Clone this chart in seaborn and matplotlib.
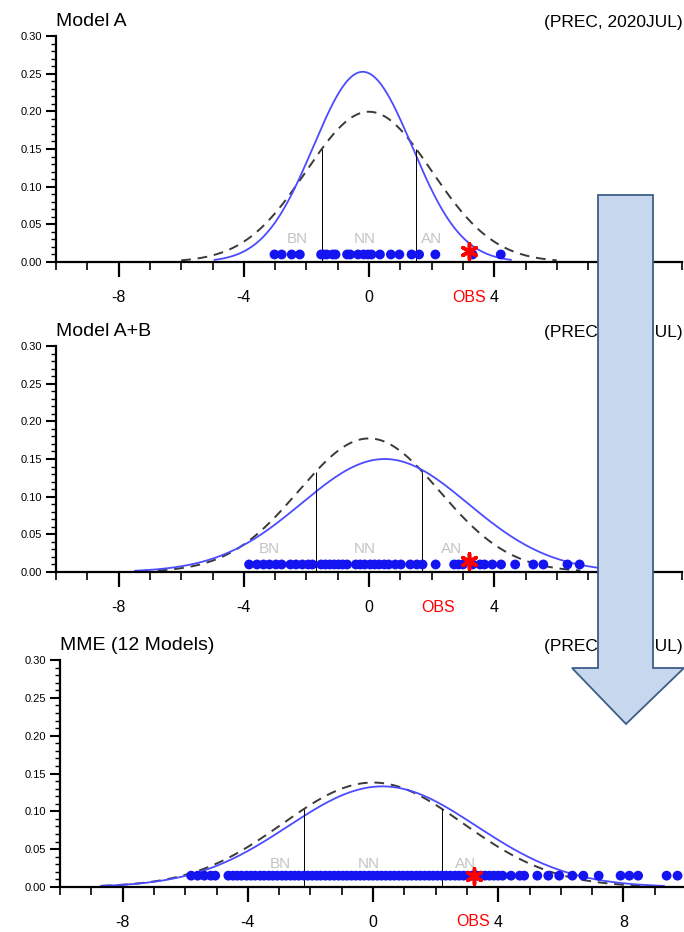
import matplotlib
matplotlib.use('Agg')

import matplotlib.pyplot as plt
from matplotlib.patches import Polygon
from matplotlib.ticker import MultipleLocator, FormatStrFormatter
import numpy as np
import seaborn as sns

sns.set_style("ticks")
plt.rcParams['font.family'] = ['Liberation Sans', 'DejaVu Sans']
plt.rcParams['text.color'] = 'black'
plt.rcParams['xtick.color'] = 'black'
plt.rcParams['ytick.color'] = 'black'
plt.rcParams['axes.edgecolor'] = 'black'

# panel titles
titles = ['Model A', 'Model A+B', 'MME (12 Models)']
right_title = '(PREC, 2020JUL)'

# fitted normal pdfs: forecast ensemble (blue) and climatology (dashed)
fcst_mean = [-0.2, 0.5, 0.3]
fcst_sd = [1.58, 2.66, 3.0]
clim_mean = [0.0, 0.0, 0.0]
clim_sd = [2.0, 2.25, 2.89]

# tercile boundaries (thin vertical lines)
lower_tercile = [-1.5, -1.7, -2.2]
upper_tercile = [1.5, 1.7, 2.2]

# ensemble members (blue dots)
members_a = [-3.02, -2.79, -2.47, -2.21, -1.53, -1.45, -1.35, -1.16, -1.07,
             -0.7, -0.6, -0.35, -0.17, -0.03, 0.08, 0.35, 0.7, 0.97, 1.36,
             1.6, 2.12, 3.31, 4.21]
members_ab = [-3.83, -3.58, -3.37, -3.18, -2.97, -2.79, -2.51, -2.33, -2.13,
              -1.94, -1.81, -1.53, -1.39, -1.25, -1.11, -0.97, -0.84, -0.7,
              -0.42, -0.28, -0.14, 0.04, 0.18, 0.32, 0.49, 0.63, 0.84, 1.02,
              1.32, 1.53, 1.71, 2.13, 2.72, 2.86, 3.0, 3.31, 3.55, 3.69,
              3.94, 4.22, 4.67, 5.25, 5.57, 6.34, 6.73]
members_mme = [-5.81, -5.6, -5.39, -5.18, -5.04,
               -4.62, -4.47, -4.34, -4.2, -4.04, -3.9, -3.77, -3.61, -3.48,
               -3.33, -3.2, -3.06, -2.91, -2.78, -2.63, -2.5, -2.37, -2.21,
               -2.08, -1.94, -1.8, -1.67, -1.52, -1.38, -1.24, -1.1, -0.96,
               -0.83, -0.69, -0.55, -0.41, -0.28, -0.13, 0.0, 0.14, 0.27,
               0.41, 0.55, 0.68, 0.83, 0.96, 1.1, 1.23, 1.38, 1.51, 1.65,
               1.79, 1.92, 2.06, 2.2, 2.33, 2.47, 2.62, 2.75, 2.89, 3.03,
               3.16, 3.31, 3.44, 3.58, 3.72, 3.86, 4.0, 4.14, 4.41,
               4.69, 4.83, 5.25, 5.6, 5.95, 6.37, 6.72, 7.21, 7.91, 8.19,
               8.47, 9.38, 9.73]
members = [members_a, members_ab, members_mme]
member_y = [0.01, 0.01, 0.015]

# observation
obs_value = [3.2, 3.2, 3.22]
obs_y = 0.015
obs_label_x = [3.2, 2.2, 3.2]

# category labels
cat_labels = ['BN', 'NN', 'AN']
cat_x = [[-2.3, -0.15, 2.0], [-3.2, -0.15, 2.65], [-2.95, -0.15, 2.95]]
cat_y = 0.03

W, H = 684, 932
# axes boxes in pixels: left, top(0.30), bottom(0.00)
boxes = [(56, 36, 262), (56, 346, 572), (60, 660, 887)]
ax_width = 626


def pdf(x, m, s):
    return np.exp(-0.5 * ((x - m) / s) ** 2) / (s * np.sqrt(2 * np.pi))


fig = plt.figure(figsize=(W / 100, H / 100), dpi=100)

for i in range(3):
    left, top, bottom = boxes[i]
    ax = fig.add_axes([left / W, 1 - bottom / H, ax_width / W, (bottom - top) / H])

    xc = np.linspace(clim_mean[i] - 3 * clim_sd[i], clim_mean[i] + 3 * clim_sd[i], 300)
    sns.lineplot(x=xc, y=pdf(xc, clim_mean[i], clim_sd[i]), ax=ax, color='#3a3a3a',
                 linewidth=1.4, linestyle=(0, (5, 3.5)))
    xf = np.linspace(fcst_mean[i] - 3 * fcst_sd[i], fcst_mean[i] + 3 * fcst_sd[i], 300)
    sns.lineplot(x=xf, y=pdf(xf, fcst_mean[i], fcst_sd[i]), ax=ax, color='#4b4bff',
                 linewidth=1.3)

    for t in [lower_tercile[i], upper_tercile[i]]:
        ax.vlines(t, 0, pdf(t, clim_mean[i], clim_sd[i]), color='black', linewidth=0.7)

    for lab, cx in zip(cat_labels, cat_x[i]):
        ax.text(cx, cat_y, lab, color='#c4c4c4', fontsize=11, ha='center', va='center')

    sns.scatterplot(x=members[i], y=[member_y[i]] * len(members[i]), ax=ax,
                    color='#1414f0', s=50, edgecolor='none', zorder=3, legend=False)
    sns.scatterplot(x=[obs_value[i]], y=[obs_y], ax=ax, color='red', marker=(6, 2, 0),
                    s=120, linewidth=2.6, zorder=4, legend=False)

    ax.annotate('OBS', xy=(obs_label_x[i], 0), xycoords=('data', 'axes fraction'),
                xytext=(0, -35), textcoords='offset pixels', color='red',
                fontsize=11.5, ha='center', va='center')

    ax.set_xlim(-10, 10)
    ax.set_ylim(0, 0.30)
    ax.xaxis.set_major_locator(MultipleLocator(4))
    ax.xaxis.set_major_formatter(FormatStrFormatter('%d'))
    ax.xaxis.set_minor_locator(MultipleLocator(1))
    ax.yaxis.set_major_locator(MultipleLocator(0.05))
    ax.yaxis.set_minor_locator(MultipleLocator(0.01))
    ax.yaxis.set_major_formatter(FormatStrFormatter('%.2f'))
    ax.tick_params(axis='x', which='major', length=11, width=1.6, labelsize=11.5, pad=9)
    ax.tick_params(axis='x', which='minor', length=5.5, width=1.2)
    ax.tick_params(axis='y', which='major', length=7, width=1.5, labelsize=8, pad=3)
    ax.tick_params(axis='y', which='minor', length=3.5, width=1.0)
    sns.despine(ax=ax)
    for side in ['left', 'bottom']:
        ax.spines[side].set_linewidth(1.6)
    ax.set_xlabel('')
    ax.set_ylabel('')

    ax.set_title(titles[i], loc='left', fontsize=14, pad=7)
    fig.text(683 / W, 1 - (top - 9) / H, right_title, fontsize=12.5,
             ha='right', va='baseline')

# big down arrow drawn over the panels
arrow_px = [(598, 195), (653, 195), (653, 668), (684, 668), (626, 724),
            (572, 668), (598, 668)]
arrow = Polygon([(x / W, 1 - y / H) for x, y in arrow_px], closed=True,
                transform=fig.transFigure, facecolor='#c6d7ee', edgecolor='#3e5d87',
                linewidth=1.3, zorder=10)
fig.add_artist(arrow)

fig.savefig('out.png', dpi=100)
